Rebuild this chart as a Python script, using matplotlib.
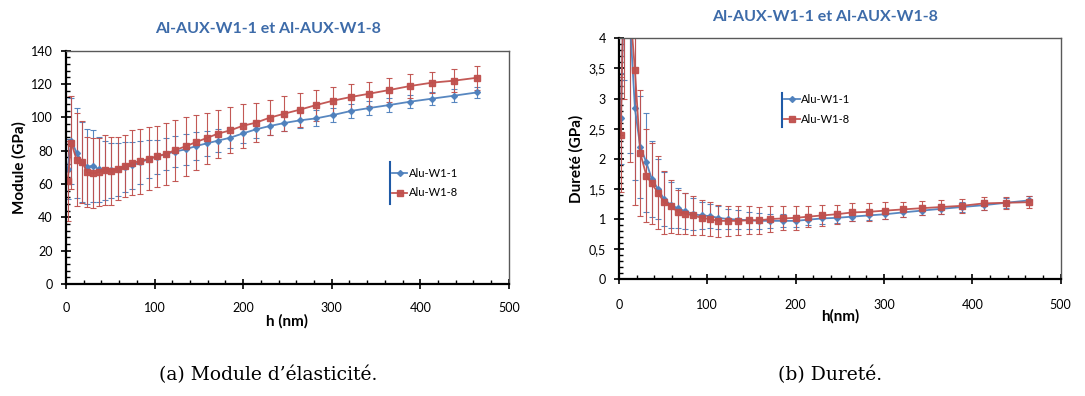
import matplotlib
matplotlib.use("Agg")
import matplotlib.pyplot as plt
from matplotlib.ticker import MultipleLocator, FuncFormatter

plt.rcParams['font.family'] = ['Lato', 'DejaVu Sans']

# profondeur d'indentation (nm), commune aux deux essais
h_nm = [2, 6, 12, 18, 24, 31, 37, 44, 51, 59, 66.5, 75, 84, 93.5, 102.5, 112.5,
        123.5, 135, 147, 159, 171.5, 185.5, 200, 214.5, 230, 246.5, 264, 282.5,
        301.5, 321.5, 342.5, 365, 388.5, 413, 438, 464.5]

# module (GPa)
mod_w1 = [68.8, 86, 78.8, 73.5, 70.4, 71, 68.8, 68.2, 68.2, 68.8, 70, 71.2, 73, 75,
          76.4, 78, 79.5, 80.8, 82.8, 84.4, 86, 87.8, 90.4, 92.8, 94.8, 96.6, 98.2,
          99.4, 101.4, 103.8, 105.6, 107.4, 109.4, 111.2, 113, 115]
mod_w1_err = [18, 25.7, 27, 24, 22.5, 21.7, 19.7, 17.5, 16.5, 15.7, 15, 14, 12.7, 11.5,
              10.2, 9.5, 9.5, 9.3, 8.5, 7.7, 7, 6.3, 6, 5.3, 5.5, 4.5, 4.8, 4.8, 4.3,
              4, 4, 4, 3.8, 3.8, 4, 3.5]
mod_w8 = [62, 84.8, 74.6, 73.4, 67, 66.4, 67.2, 68.4, 67.8, 69.2, 71, 72.8, 73.6, 75.2,
          76.6, 78, 80.4, 82.6, 85.2, 87.6, 90.2, 92.2, 95, 96.8, 99.8, 102.2, 104.6,
          107.4, 110, 112.2, 114.2, 116.4, 118.8, 120.8, 122, 123.8]
mod_w8_err = [24, 28, 28, 24.5, 21, 21, 20.5, 21, 20.3, 19, 18.5, 19.5, 19.5, 19, 18.5,
              18.5, 18.3, 17.7, 16.5, 15.3, 14.5, 13.8, 13.2, 11.8, 10.5, 10.5, 10.2,
              9.3, 8.5, 7.7, 7.3, 7, 7, 6.3, 7, 7.3]

# durete (GPa)
hard_w1 = [2.67, 5.0, 4.4, 2.84, 2.20, 1.94, 1.67, 1.50, 1.33, 1.23, 1.18, 1.13, 1.08,
           1.06, 1.05, 1.02, 1.00, 0.99, 0.98, 0.97, 0.97, 0.97, 0.97, 0.99, 1.01, 1.02,
           1.04, 1.06, 1.08, 1.11, 1.14, 1.17, 1.20, 1.23, 1.27, 1.31]
hard_w1_err = [0.75, 1.7, 2.3, 1.2, 0.85, 0.82, 0.63, 0.5, 0.45, 0.38, 0.33, 0.30, 0.27,
               0.23, 0.20, 0.19, 0.17, 0.16, 0.14, 0.13, 0.12, 0.11, 0.10, 0.09, 0.09,
               0.08, 0.08, 0.08, 0.08, 0.08, 0.08, 0.08, 0.08, 0.08, 0.08, 0.08]
hard_w8 = [2.40, 5.5, 4.6, 3.48, 2.10, 1.72, 1.59, 1.44, 1.28, 1.21, 1.12, 1.09, 1.06,
           1.02, 1.00, 0.97, 0.97, 0.97, 0.98, 0.98, 1.00, 1.01, 1.02, 1.04, 1.06, 1.08,
           1.11, 1.12, 1.14, 1.16, 1.18, 1.20, 1.22, 1.26, 1.27, 1.28]
hard_w8_err = [0.95, 2.5, 2.65, 2.25, 1.05, 0.77, 0.67, 0.6, 0.52, 0.44, 0.36, 0.34,
               0.32, 0.29, 0.28, 0.26, 0.25, 0.24, 0.23, 0.22, 0.21, 0.20, 0.20, 0.18,
               0.17, 0.16, 0.15, 0.15, 0.14, 0.13, 0.12, 0.11, 0.12, 0.11, 0.10, 0.10]

labels = ['Alu-W1-1', 'Alu-W1-8']
title = 'Al-AUX-W1-1 et Al-AUX-W1-8'
blue, red = '#4F81BD', '#C0504D'
title_col = '#3D6BA9'


def draw(ax, y1, e1, y8, e8):
    c1 = ax.errorbar(h_nm, y1, yerr=e1, fmt='-D', color=blue, ecolor=blue, lw=1.3,
                     ms=3, elinewidth=0.8, capsize=2, capthick=0.8, alpha=0.95)
    c8 = ax.errorbar(h_nm, y8, yerr=e8, fmt='-s', color=red, ecolor=red, lw=1.3,
                     ms=5, elinewidth=0.8, capsize=2, capthick=0.8, alpha=0.95)
    return [c1[0], c8[0]]


def style(ax, xpad):
    for s in ['left', 'bottom']:
        ax.spines[s].set_linewidth(1.6)
        ax.spines[s].set_color('black')
    for s in ['top', 'right']:
        ax.spines[s].set_linewidth(1.0)
        ax.spines[s].set_color('#595959')
    ax.set_xlim(0, 500)
    ax.xaxis.set_major_locator(MultipleLocator(100))
    ax.xaxis.set_minor_locator(MultipleLocator(20))
    ax.tick_params(which='major', direction='inout', length=7, width=1.2,
                   labelsize=9, colors='black')
    ax.tick_params(which='minor', direction='in', length=3, width=1.0)
    ax.tick_params(axis='x', which='major', pad=xpad)
    ax.tick_params(axis='y', which='major', pad=6)


def legend(ax, handles, x, y0, y1):
    ax.plot([x, x], [y0, y1], transform=ax.transAxes, color='#1F5AA6', lw=1.5,
            clip_on=False)
    ax.legend(handles, labels, loc='center left',
              bbox_to_anchor=(x + 0.005, (y0 + y1) / 2),
              frameon=False, fontsize=8, handlelength=1.4, handletextpad=0.1,
              labelspacing=0.8, borderaxespad=0, borderpad=0)


fig = plt.figure(figsize=(10.85, 3.96), dpi=100)

# (a) module
ax1 = fig.add_axes([0.0608, 0.2828, 0.4082, 0.5892])
hd = draw(ax1, mod_w1, mod_w1_err, mod_w8, mod_w8_err)
style(ax1, 9.5)
ax1.set_ylim(0, 140)
ax1.yaxis.set_major_locator(MultipleLocator(20))
ax1.yaxis.set_minor_locator(MultipleLocator(4))
ax1.set_xlabel('h (nm)', fontsize=11, fontweight='bold')
ax1.set_ylabel('Module (GPa)', fontsize=11, fontweight='bold')
ax1.xaxis.set_label_coords(0.5, -0.13)
ax1.yaxis.set_label_coords(-0.09, 0.5)
legend(ax1, hd, 0.731, 0.343, 0.523)

# (b) durete
ax2 = fig.add_axes([0.5705, 0.2947, 0.4071, 0.6086])
hd = draw(ax2, hard_w1, hard_w1_err, hard_w8, hard_w8_err)
style(ax2, 11)
ax2.set_ylim(0, 4)
ax2.yaxis.set_major_locator(MultipleLocator(0.5))
ax2.yaxis.set_minor_locator(MultipleLocator(0.1))
ax2.yaxis.set_major_formatter(FuncFormatter(lambda v, p: f'{v:g}'.replace('.', ',')))
ax2.set_xlabel('h(nm)', fontsize=11, fontweight='bold')
ax2.set_ylabel('Dureté (GPa)', fontsize=11, fontweight='bold')
ax2.xaxis.set_label_coords(0.5, -0.125)
ax2.yaxis.set_label_coords(-0.08, 0.5)
legend(ax2, hd, 0.369, 0.633, 0.774)

fig.text(0.247, 0.927, title, ha='center', va='center', fontsize=11.5,
         fontweight='bold', color=title_col)
fig.text(0.760, 0.957, title, ha='center', va='center', fontsize=11.5,
         fontweight='bold', color=title_col)

fig.text(0.247, 1 - 375 / 396, '(a) Module d\u2019élasticité.', ha='center',
         va='center', fontsize=13.5, family='DejaVu Serif')
fig.text(0.765, 1 - 375 / 396, '(b) Dureté.', ha='center', va='center',
         fontsize=13.5, family='DejaVu Serif')

fig.savefig('out.png', dpi=100)
